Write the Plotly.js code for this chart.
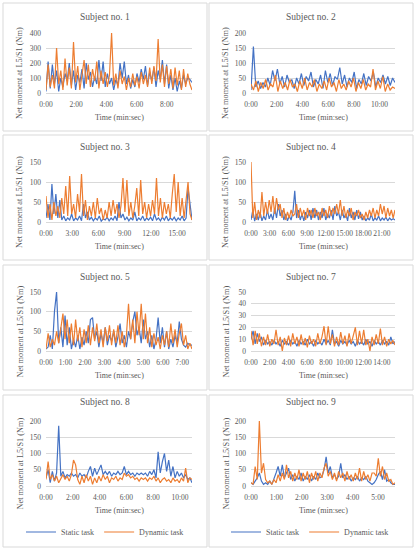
<!DOCTYPE html>
<html>
<head>
<meta charset="utf-8">
<script src="https://cdn.plot.ly/plotly-3.0.1.min.js"></script>
<style>
  html, body { margin: 0; padding: 0; background: #fff; }
  #chart { width: 417px; height: 550px; }
</style>
</head>
<body>
<div id="chart"></div>
<script>
// Net moment at L5/S1 (Nm), evenly spaced over each recording
const s1Length = 9.67; // minutes
const s1Static = [10, 210, 30, 190, 60, 150, 10, 100, 40, 130, 80, 200, 50, 150, 20, 120, 70, 160, 30, 200,
  90, 140, 40, 110, 60, 220, 80, 210, 40, 130, 60, 100, 20, 90, 50, 200, 100, 210, 60, 120,
  30, 90, 40, 130, 70, 160, 90, 180, 50, 140, 80, 170, 40, 150, 90, 220, 60, 190, 30, 120,
  20, 100, 10, 80, 30, 120, 60, 100, 90, 70];
const s1Dynamic = [20, 190, 40, 120, 30, 300, 60, 150, 20, 230, 50, 170, 30, 340, 70, 180, 20, 140, 220, 60,
  190, 40, 160, 80, 210, 30, 150, 60, 140, 40, 120, 400, 50, 130, 30, 150, 60, 110, 20, 100,
  40, 130, 50, 110, 30, 140, 60, 120, 40, 170, 60, 180, 80, 360, 70, 190, 40, 180, 60, 160,
  30, 170, 50, 150, 20, 160, 40, 130, 60, 20];

const s2Length = 11.2;
const s2Static = [10, 155, 20, 40, 15, 35, 20, 50, 25, 75, 40, 80, 30, 55, 20, 60, 35, 45, 15, 50,
  30, 65, 25, 55, 40, 70, 20, 45, 30, 60, 15, 75, 35, 65, 25, 55, 45, 85, 30, 60,
  20, 50, 35, 70, 15, 45, 30, 65, 25, 55, 40, 70, 20, 50, 35, 60, 30, 55, 25, 50, 35];
const s2Dynamic = [30, 10, 40, 5, 35, 15, 45, 10, 30, 20, 60, 5, 40, 15, 35, 10, 45, 20, 30, 5,
  40, 15, 50, 10, 35, 20, 45, 5, 30, 15, 40, 10, 50, 20, 35, 5, 45, 15, 30, 10,
  40, 20, 50, 5, 35, 15, 45, 10, 30, 20, 80, 10, 40, 15, 55, 5, 30, 10, 20, 15];

const s3Length = 16.7;
const s3Static = [10, 45, 5, 95, 20, 70, 10, 55, 5, 15, 3, 10, 5, 20, 3, 10, 5, 15, 3, 45,
  10, 25, 5, 12, 3, 10, 5, 15, 2, 8, 5, 12, 3, 10, 5, 15, 3, 50, 10, 20,
  5, 12, 3, 10, 5, 25, 3, 10, 5, 15, 3, 10, 5, 12, 3, 20, 5, 10, 3, 12,
  5, 15, 3, 10, 5, 12, 3, 10, 5, 15, 3, 10, 85, 50, 5];
const s3Dynamic = [65, 10, 45, 5, 50, 15, 40, 10, 60, 20, 90, 15, 115, 20, 45, 10, 70, 25, 120, 15,
  55, 5, 40, 15, 50, 10, 60, 20, 35, 5, 30, 10, 50, 15, 55, 20, 45, 10, 40, 110,
  25, 105, 15, 50, 10, 40, 85, 15, 105, 20, 50, 10, 45, 15, 55, 20, 110, 15, 60, 10,
  50, 20, 45, 10, 70, 120, 25, 100, 15, 60, 10, 50, 100, 20, 5];

const s4Length = 23.1;
const s4Static = [5, 30, 2, 20, 5, 25, 3, 15, 5, 30, 8, 20, 5, 35, 10, 45, 15, 30, 5, 20,
  3, 15, 5, 25, 78, 10, 30, 5, 20, 3, 25, 10, 30, 5, 35, 10, 30, 5, 25, 10,
  35, 5, 20, 10, 30, 5, 40, 15, 25, 5, 30, 10, 20, 3, 35, 10, 25, 5, 30, 8,
  25, 5, 15, 3, 10, 5, 20, 3, 10, 5, 15, 3, 10, 5, 12, 3, 10, 5, 8, 5];
const s4Dynamic = [150, 10, 50, 5, 30, 10, 75, 15, 50, 20, 55, 25, 65, 20, 60, 30, 45, 10, 35, 5,
  25, 10, 30, 15, 20, 45, 10, 35, 15, 30, 5, 35, 15, 30, 10, 35, 15, 25, 5, 35,
  15, 30, 10, 40, 15, 35, 20, 45, 20, 55, 15, 40, 10, 30, 15, 35, 5, 25, 15, 30,
  10, 20, 5, 25, 10, 30, 15, 35, 10, 30, 15, 45, 20, 40, 10, 35, 15, 30, 10, 30];

const s5Length = 7.5;
const s5Static = [5, 10, 40, 5, 100, 150, 20, 60, 10, 90, 15, 60, 5, 30, 10, 40, 5, 35, 15, 50,
  20, 80, 85, 30, 50, 10, 45, 20, 60, 15, 40, 25, 50, 10, 35, 70, 20, 40, 10, 50,
  30, 75, 100, 40, 60, 20, 80, 30, 50, 10, 40, 5, 30, 85, 20, 60, 10, 50, 5, 30,
  10, 40, 20, 75, 30, 15, 10, 20, 15, 15];
const s5Dynamic = [5, 45, 10, 30, 15, 50, 20, 60, 95, 30, 80, 20, 70, 15, 80, 25, 60, 10, 55, 20,
  65, 15, 60, 25, 70, 20, 55, 10, 60, 25, 65, 15, 55, 20, 65, 15, 50, 10, 40, 120,
  30, 80, 20, 100, 40, 120, 30, 95, 20, 60, 10, 45, 15, 35, 5, 40, 15, 50, 10, 70,
  20, 55, 10, 45, 70, 15, 40, 5, 20, 5];

const s7Length = 15.4;
const s7Static = [10, 17, 6, 15, 8, 12, 5, 9, 6, 8, 5, 9, 6, 8, 4, 9, 6, 8, 5, 9,
  6, 8, 4, 9, 6, 8, 5, 10, 6, 8, 4, 9, 6, 8, 5, 10, 6, 9, 5, 18,
  6, 8, 4, 9, 6, 8, 5, 9, 6, 8, 4, 9, 6, 8, 5, 10, 6, 8, 4, 9,
  6, 8, 5, 9, 6, 8, 5, 12, 6, 8];
const s7Dynamic = [17, 5, 17, 6, 15, 4, 12, 5, 14, 4, 10, 6, 18, 5, 12, 0, 11, 5, 13, 4,
  15, 6, 12, 4, 14, 5, 11, 3, 13, 6, 10, 4, 15, 6, 12, 21, 5, 21, 6, 14,
  4, 12, 5, 16, 6, 13, 4, 15, 6, 14, 20, 5, 17, 6, 18, 5, 10, 0, 12, 5,
  14, 6, 19, 5, 12, 4, 10, 6, 9, 5];

const s8Length = 10.9;
const s8Static = [25, 50, 10, 45, 15, 40, 185, 30, 45, 25, 35, 30, 40, 30, 35, 25, 40, 30, 35, 25,
  45, 60, 30, 55, 35, 50, 65, 35, 45, 35, 45, 30, 40, 35, 45, 35, 40, 60, 35, 45,
  35, 40, 30, 40, 35, 40, 35, 40, 30, 45, 35, 50, 25, 105, 40, 75, 100, 45, 80, 30,
  60, 25, 45, 30, 40, 25, 35, 20, 25, 10];
const s8Dynamic = [20, 75, 20, 35, 15, 30, 10, 25, 35, 20, 30, 15, 35, 80, 65, 20, 5, 30, 10, 35,
  15, 30, 5, 25, 10, 30, 15, 35, 20, 30, 10, 25, 20, 30, 15, 25, 20, 40, 30, 35,
  25, 30, 20, 25, 15, 25, 20, 25, 15, 25, 20, 30, 15, 25, 10, 20, 25, 15, 20, 10,
  25, 15, 20, 10, 25, 15, 55, 10, 25, 20];

const s9Length = 5.67;
const s9Static = [10, 5, 15, 25, 40, 15, 5, 10, 5, 15, 5, 20, 40, 60, 30, 65, 25, 40, 55, 20,
  35, 15, 30, 20, 40, 15, 30, 20, 35, 15, 30, 20, 40, 25, 30, 50, 90, 40, 60, 25,
  35, 20, 30, 70, 25, 35, 20, 30, 15, 25, 20, 30, 15, 25, 20, 30, 15, 10, 5, 10,
  20, 35, 45, 20, 50, 15, 20, 10, 5, 5];
const s9Dynamic = [10, 5, 60, 20, 200, 40, 70, 20, 10, 15, 5, 20, 10, 35, 15, 40, 20, 65, 25, 45,
  15, 40, 20, 50, 15, 40, 20, 45, 10, 40, 20, 45, 15, 40, 25, 55, 70, 30, 45, 20,
  40, 15, 45, 25, 40, 15, 45, 20, 35, 15, 40, 20, 55, 15, 45, 20, 35, 15, 40, 40,
  30, 85, 30, 60, 20, 40, 15, 20, 5, 10];

const subjectNames = ["Subject no. 1", "Subject no. 2", "Subject no. 3", "Subject no. 4",
  "Subject no. 5", "Subject no. 7", "Subject no. 8", "Subject no. 9"];
const seriesNames = ["Static task", "Dynamic task"];
const yAxisTitle = "Net moment at L5/S1 (Nm)";
const xAxisTitle = "Time (min:sec)";

const W = 417, H = 550;
const gris = "#595959";
const grille = "#d9d9d9";
const bleu = "#4472c4";
const orange = "#ed7d31";
const police = "'Liberation Serif', 'DejaVu Serif', serif";

const paneles = [
  { st: s1Static, dy: s1Dynamic, dur: s1Length, paso: 2, ultimo: 8, ymax: 400, ypaso: 100 },
  { st: s2Static, dy: s2Dynamic, dur: s2Length, paso: 2, ultimo: 10, ymax: 200, ypaso: 50 },
  { st: s3Static, dy: s3Dynamic, dur: s3Length, paso: 3, ultimo: 15, ymax: 150, ypaso: 50 },
  { st: s4Static, dy: s4Dynamic, dur: s4Length, paso: 3, ultimo: 21, ymax: 150, ypaso: 50 },
  { st: s5Static, dy: s5Dynamic, dur: s5Length, paso: 1, ultimo: 7, ymax: 150, ypaso: 50 },
  { st: s7Static, dy: s7Dynamic, dur: s7Length, paso: 2, ultimo: 14, ymax: 50, ypaso: 10 },
  { st: s8Static, dy: s8Dynamic, dur: s8Length, paso: 2, ultimo: 10, ymax: 200, ypaso: 50 },
  { st: s9Static, dy: s9Dynamic, dur: s9Length, paso: 1, ultimo: 5, ymax: 200, ypaso: 50 },
];

// pixel geometry of the grid of panels
const colPlot = [[46, 192], [251, 395]];
const colCaja = [[3, 207], [209, 413]];
const filaPlot = [[33, 93], [162, 222], [292, 351], [421, 486]];
const filaCaja = [[3, 131], [135, 260], [265, 390], [395, 547]];
const filaTitulo = [17, 147, 277, 402];

const px = x => x / W;
const py = y => 1 - y / H;

function tiempo(i, n, dur) {
  return i * dur / (n - 1);
}

const data = [];
const layout = {
  width: W, height: H,
  margin: { l: 0, r: 0, t: 0, b: 0 },
  paper_bgcolor: "#fff",
  plot_bgcolor: "#fff",
  font: { family: police, color: gris, size: 8 },
  showlegend: true,
  annotations: [],
  shapes: [],
  legend: {
    orientation: "h", x: px(105), y: py(532), xanchor: "center", yanchor: "middle",
    font: { size: 8, color: gris }, itemwidth: 30, bgcolor: "rgba(0,0,0,0)"
  },
  legend2: {
    orientation: "h", x: px(310), y: py(532), xanchor: "center", yanchor: "middle",
    font: { size: 8, color: gris }, itemwidth: 30, bgcolor: "rgba(0,0,0,0)"
  }
};

paneles.forEach((p, k) => {
  const col = k % 2, fila = Math.floor(k / 2);
  const sx = k === 0 ? "" : String(k + 1);
  const xref = "x" + sx, yref = "y" + sx;

  [[p.st, bleu, 0], [p.dy, orange, 1]].forEach(([vals, color, s]) => {
    const enLeyenda = k >= 6;
    data.push({
      x: vals.map((_, i) => tiempo(i, vals.length, p.dur)),
      y: vals,
      type: "scatter",
      mode: "lines",
      name: seriesNames[s],
      line: { color: color, width: 1.2 },
      xaxis: xref, yaxis: yref,
      showlegend: enLeyenda,
      legend: k === 7 ? "legend2" : "legend",
      hoverinfo: "skip"
    });
  });

  const tv = [], tt = [];
  for (let m = 0; m <= p.ultimo; m += p.paso) { tv.push(m); tt.push(m + ":00"); }

  layout["xaxis" + sx] = {
    domain: [px(colPlot[col][0]), px(colPlot[col][1])],
    anchor: yref,
    range: [0, p.dur],
    tickvals: tv, ticktext: tt, tickangle: 0,
    showgrid: false, zeroline: false,
    showline: true, linecolor: grille, linewidth: 1,
    ticks: "", ticklabelstandoff: 4,
    tickfont: { size: 7.5, color: gris },
    fixedrange: true
  };
  layout["yaxis" + sx] = {
    domain: [py(filaPlot[fila][1]), py(filaPlot[fila][0])],
    anchor: xref,
    range: [0, p.ymax],
    dtick: p.ypaso, tick0: 0,
    showgrid: true, gridcolor: grille, gridwidth: 1,
    zeroline: false, showline: false,
    ticks: "", ticklabelstandoff: 4,
    tickfont: { size: 7.5, color: gris },
    fixedrange: true
  };

  const cx = (colCaja[col][0] + colCaja[col][1]) / 2;
  layout.annotations.push({
    text: subjectNames[k], xref: "paper", yref: "paper",
    x: px(cx), y: py(filaTitulo[fila]), xanchor: "center", yanchor: "middle",
    showarrow: false, font: { size: 9.5, color: gris }
  });
  layout.annotations.push({
    text: xAxisTitle, xref: "paper", yref: "paper",
    x: px((colPlot[col][0] + colPlot[col][1]) / 2), y: py(filaPlot[fila][1] + 24),
    xanchor: "center", yanchor: "middle",
    showarrow: false, font: { size: 8, color: gris }
  });
  layout.annotations.push({
    text: yAxisTitle, xref: "paper", yref: "paper",
    x: px(colCaja[col][0] + 17), y: py((filaPlot[fila][0] + filaPlot[fila][1]) / 2 + 10),
    xanchor: "center", yanchor: "middle", textangle: -90,
    showarrow: false, font: { size: 8.3, color: gris }
  });
  layout.shapes.push({
    type: "rect", xref: "paper", yref: "paper",
    x0: px(colCaja[col][0]), x1: px(colCaja[col][1]),
    y0: py(filaCaja[fila][1]), y1: py(filaCaja[fila][0]),
    line: { color: grille, width: 1 }, fillcolor: "rgba(0,0,0,0)", layer: "below"
  });
});

Plotly.newPlot("chart", data, layout, { displayModeBar: false, staticPlot: true });
</script>
</body>
</html>
